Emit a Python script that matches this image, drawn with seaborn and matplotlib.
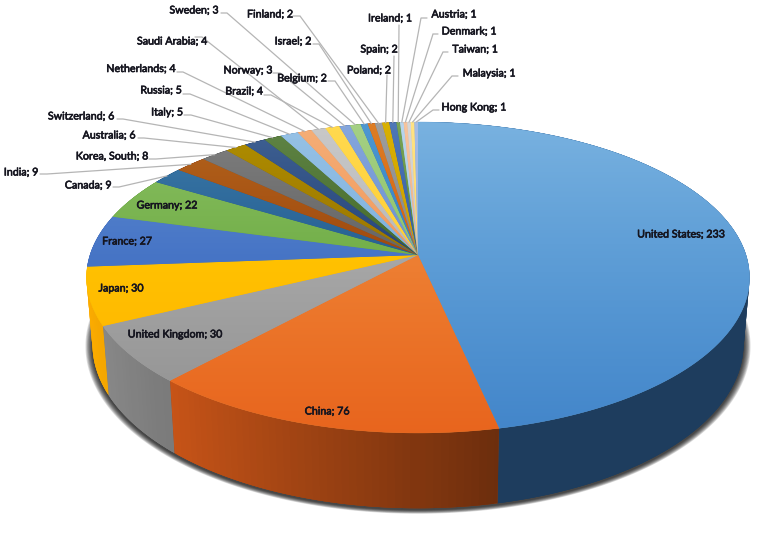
import numpy as np
import matplotlib
matplotlib.use("Agg")
import matplotlib.pyplot as plt
import matplotlib.patheffects as pe
from matplotlib.patches import PathPatch
from matplotlib.path import Path
import matplotlib.colors as mc
import seaborn as sns

countries = ["United States", "China", "United Kingdom", "Japan", "France", "Germany",
             "Canada", "India", "Korea, South", "Australia", "Switzerland", "Italy",
             "Russia", "Netherlands", "Saudi Arabia", "Brazil", "Norway", "Sweden",
             "Belgium", "Israel", "Finland", "Poland", "Spain", "Ireland", "Austria",
             "Denmark", "Taiwan", "Malaysia", "Hong Kong"]
systems = [233, 76, 30, 30, 27, 22, 9, 9, 8, 6, 6, 5, 5, 4, 4, 4, 3, 3,
           2, 2, 2, 2, 2, 1, 1, 1, 1, 1, 1]
slice_colors = ["#5B9BD5", "#ED7D31", "#A5A5A5", "#FFC000", "#4472C4", "#70AD47",
                "#255E91", "#9E480E", "#636363", "#997300", "#264478", "#43682B",
                "#7CAFDD", "#F1975A", "#B7B7B7", "#FFCD33", "#698ED0", "#8CC168",
                "#327DC2", "#D26012", "#848484", "#CC9A00", "#335AA1", "#5A8A39",
                "#A3C7E6", "#F4B183", "#C9C9C9", "#FFD966", "#8FAADC"]

# label layout: (text centre x, y, elbow start x, y, elbow end x, y) in pixels
label_layout = {
    "Canada": (88, 185, 113, 187, 119, 187), "India": (21, 172, 40, 174, 47, 174),
    "Korea, South": (112, 156, 149, 159, 156, 159), "Australia": (109, 135, 138, 138, 144, 138),
    "Switzerland": (81, 116, 117, 119, 123, 119), "Italy": (167, 112, 184, 115, 191, 115),
    "Russia": (161, 90, 183, 94, 190, 94), "Netherlands": (141, 68.5, 177, 72, 183, 72),
    "Saudi Arabia": (172, 41, 195, 37, 202, 37), "Brazil": (244, 91, 264, 95, 271, 95),
    "Norway": (248, 70, 273, 73, 280, 73), "Sweden": (194, 10, 221, 13, 227, 13),
    "Belgium": (302, 78, 328, 81, 335, 81), "Israel": (293, 41, 313, 44, 319, 44),
    "Finland": (270, 14, 293, 16, 300, 16), "Poland": (369, 70, 387, 75, 387, 75),
    "Spain": (379, 49, 394, 56, 394, 56), "Ireland": (390, 18, 399, 25, 399, 25),
    "Austria": (454, 14, 427, 18, 421, 18), "Denmark": (469, 31, 438, 34, 433, 34),
    "Taiwan": (475, 49, 448, 52, 443, 52), "Malaysia": (489, 73, 458, 76, 452, 76),
    "Hong Kong": (474, 107, 439, 110, 433, 110),
}
inside_labels = {"United States": (681, 234), "China": (327, 411), "United Kingdom": (175, 334),
                 "Japan": (121, 288), "France": (127, 241), "Germany": (167, 205)}

CX, CY, A, B, K = 418.0, 255.0, 328.0, 152.2, 0.1447


def top(theta):
    u, v = np.sin(theta), np.cos(theta)
    d = 1 + K * v
    return CX + A * u / d, CY - B * v / d


def bottom(theta):
    x, y = top(theta)
    return CX + 0.982 * (x - CX), CY + 65.5 + 1.055 * (y - CY)


def wall_shade(u):
    return np.interp(u, [-1, -0.67, 0.2, 1], [1.0, 0.86, 0.47, 0.47])


sns.set_theme(style="white")
plt.rcParams["font.family"] = ["Lato", "DejaVu Sans"]
palette = sns.color_palette(slice_colors)

fig = plt.figure(figsize=(7.71, 5.34), dpi=100)
ax = fig.add_axes([0, 0, 1, 1])

values = np.array(systems, float)
edges = np.concatenate([[0], np.cumsum(values)]) / values.sum() * 2 * np.pi
full = np.linspace(0, 2 * np.pi, 720)

# soft shadow beneath the drum
bx, by = bottom(full)
for i in range(9):
    s = 1 + (9 - i) * 0.0024
    ax.fill(CX + s * (bx - CX), CY + 68 + s * (by - CY - 68) + 1.5, color="black",
            alpha=0.13, lw=0, zorder=1)

# side wall: one solid base per slice, then overlapping shaded strips, back to front
for i in range(len(values)):
    t = np.linspace(edges[i], edges[i + 1], 60)
    x1, y1 = top(t)
    x2, y2 = bottom(t)
    f = wall_shade(np.sin(t.mean()))
    ax.fill(np.r_[x1, x2[::-1]], np.r_[y1, y2[::-1]], lw=0,
            color=np.clip(np.array(mc.to_rgb(palette[i])) ** 1.35 * f, 0, 1), zorder=2)
quads = []
for i in range(len(values)):
    n = max(2, int((edges[i + 1] - edges[i]) / 0.02))
    t = np.linspace(edges[i], edges[i + 1], n + 1)
    for a, b in zip(t[:-1], t[1:]):
        quads.append((np.cos((a + b) / 2), a, b, i))
for _, a, b, i in sorted(quads, key=lambda q: -q[0]):
    pad = min(0.012, (b - a) * 0.5)
    lo, hi = max(a - pad, edges[i]), min(b + pad, edges[i + 1])
    tt = np.array([lo, hi])
    x1, y1 = top(tt)
    x2, y2 = bottom(tt)
    f = wall_shade(np.sin((a + b) / 2))
    rgb = np.clip(np.array(mc.to_rgb(palette[i])) ** 1.35 * f, 0, 1)
    ax.fill([x1[0], x1[1], x2[1], x2[0]], [y1[0], y1[1], y2[1], y2[0]],
            color=rgb, lw=0, zorder=2)

# top face: each slice is filled, then shaded from light (back) to saturated (front)
gamma = np.linspace(0.72, 1.3, 256)[:, None, None]
for i in range(len(values)):
    t = np.linspace(edges[i], edges[i + 1], max(3, int((edges[i + 1] - edges[i]) * 100)))
    x, y = top(t)
    xs, ys = np.r_[CX, x], np.r_[CY, y]
    ax.fill(xs, ys, color=palette[i], lw=0.3, zorder=3)
    base = np.array(mc.to_rgb(palette[i]))[None, None, :]
    im = ax.imshow(np.repeat(base ** gamma, 2, axis=1), extent=(80, 760, 434, 120),
                   aspect="auto", zorder=4, interpolation="bilinear")
    clip = PathPatch(Path(np.c_[np.r_[xs, xs[0]], np.r_[ys, ys[0]]]), transform=ax.transData,
                     fc="none", ec="none")
    ax.add_patch(clip)
    im.set_clip_path(clip)

# labels and leaders
TEXT = "#15151f"
FS = 7.7
embolden = [pe.withStroke(linewidth=0.45, foreground=TEXT)]
for i, name in enumerate(countries):
    label = f"{name}; {systems[i]}"
    if name in inside_labels:
        px, py = inside_labels[name]
    else:
        px, py, sx, sy, ex, ey = label_layout[name]
        rx, ry = top((edges[i] + edges[i + 1]) / 2)
        ax.plot([sx, ex, rx], [sy, ey, ry], color="#b5b5b5", lw=0.9, zorder=5,
                solid_joinstyle="miter")
    ax.text(px, py, label, ha="center", va="center", fontsize=FS, color=TEXT,
            path_effects=embolden, zorder=6)

ax.set_xlim(0, 771)
ax.set_ylim(534, 0)
ax.axis("off")
fig.savefig("out.png", dpi=100, facecolor="white")
